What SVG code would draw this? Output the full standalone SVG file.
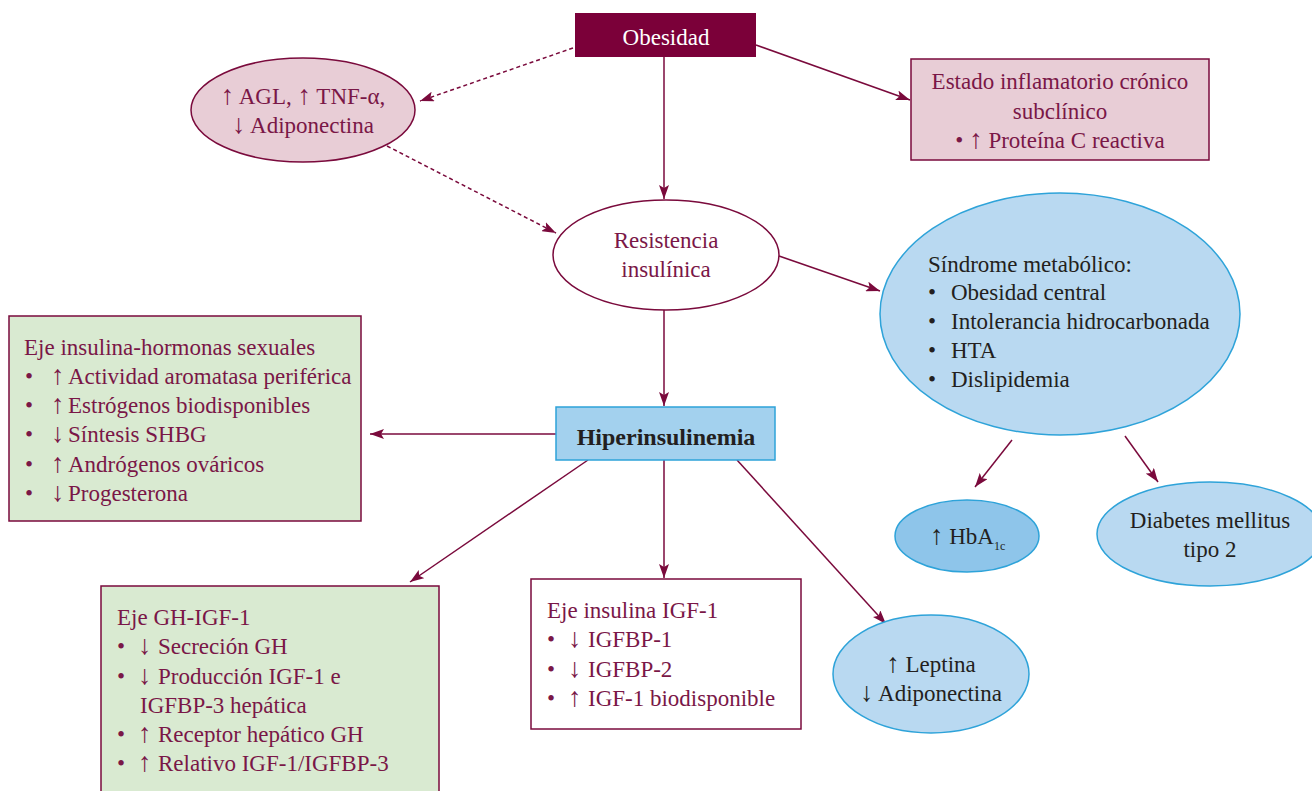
<svg xmlns="http://www.w3.org/2000/svg" width="1312" height="791" viewBox="0 0 1312 791">
<defs>
<marker id="ah" viewBox="0 0 14 10" refX="14" refY="5" markerWidth="14" markerHeight="10" markerUnits="userSpaceOnUse" orient="auto">
<path d="M0,0 L14,5 L0,10 L3,5 Z" fill="#7a0a3c"/>
</marker>
<style>
.t{font-family:"Liberation Serif","DejaVu Serif",serif;font-size:23px;fill:#7a1747}
.d{font-family:"Liberation Serif","DejaVu Serif",serif;font-size:23px;fill:#231f20}
.c{text-anchor:middle}
.ar{font-size:27px}
.ln{stroke:#7a0a3c;stroke-width:1.5;fill:none;marker-end:url(#ah)}
.dash{stroke-dasharray:4 3}
.mar{stroke:#7a0a3c;stroke-width:1.5}
.blu{stroke:#2ea3d9;stroke-width:1.5}
</style>
</defs>
<rect width="1312" height="791" fill="#ffffff"/>
<g id="connectors">
<line class="ln dash" x1="573" y1="48" x2="420" y2="101"/>
<line class="ln dash" x1="387" y1="146" x2="556" y2="233"/>
<line class="ln" x1="756" y1="45" x2="910" y2="100"/>
<line class="ln" x1="664" y1="57" x2="664" y2="199"/>
<line class="ln" x1="779" y1="256" x2="880" y2="291"/>
<line class="ln" x1="664" y1="310" x2="664" y2="406"/>
<line class="ln" x1="556" y1="434" x2="370" y2="434"/>
<line class="ln" x1="588" y1="460" x2="410" y2="582"/>
<line class="ln" x1="664" y1="460" x2="664" y2="578"/>
<line class="ln" x1="737" y1="460" x2="886" y2="624"/>
<line class="ln" x1="1012" y1="440" x2="975" y2="487"/>
<line class="ln" x1="1125" y1="436" x2="1158" y2="482"/>
</g>
<g id="obesidad">
<rect x="575" y="13" width="181" height="44" fill="#7b0039"/>
<text class="t c" x="666" y="45" style="fill:#ffffff">Obesidad</text>
</g>
<g id="agl">
<ellipse cx="303" cy="110" rx="112" ry="52" fill="#e8cdd6" class="mar"/>
<text class="t c" x="303" y="104"><tspan class="ar">↑</tspan> AGL, <tspan class="ar">↑</tspan> TNF-α,</text>
<text class="t c" x="303" y="133"><tspan class="ar">↓</tspan> Adiponectina</text>
</g>
<g id="inflamatorio">
<rect x="911" y="59" width="298" height="101" fill="#e8cdd6" class="mar"/>
<text class="t c" x="1060" y="89">Estado inflamatorio crónico</text>
<text class="t c" x="1060" y="119">subclínico</text>
<text class="t c" x="1060" y="148">• <tspan class="ar">↑</tspan> Proteína C reactiva</text>
</g>
<g id="resistencia">
<ellipse cx="666" cy="255" rx="113" ry="55" fill="#ffffff" class="mar"/>
<text class="t c" x="666" y="248">Resistencia</text>
<text class="t c" x="666" y="277">insulínica</text>
</g>
<g id="sindrome">
<ellipse cx="1060" cy="314" rx="180" ry="121" fill="#b9d9f1" class="blu"/>
<text class="d" x="928" y="272">Síndrome metabólico:</text>
<text class="d" y="300"><tspan x="928">•</tspan><tspan x="951">Obesidad central</tspan></text>
<text class="d" y="329"><tspan x="928">•</tspan><tspan x="951">Intolerancia hidrocarbonada</tspan></text>
<text class="d" y="358"><tspan x="928">•</tspan><tspan x="951">HTA</tspan></text>
<text class="d" y="387"><tspan x="928">•</tspan><tspan x="951">Dislipidemia</tspan></text>
</g>
<g id="hiperinsulinemia">
<rect x="556" y="407" width="219" height="53" fill="#a3d1ee" class="blu"/>
<text class="d c" x="666" y="445" style="font-weight:bold;font-size:24px">Hiperinsulinemia</text>
</g>
<g id="hormonas">
<rect x="9" y="316" width="352" height="205" fill="#d9ead1" class="mar"/>
<text class="t" x="24" y="355">Eje insulina-hormonas sexuales</text>
<text class="t" y="384"><tspan x="25">•</tspan><tspan x="51" class="ar">↑</tspan><tspan x="68">Actividad aromatasa periférica</tspan></text>
<text class="t" y="413"><tspan x="25">•</tspan><tspan x="51" class="ar">↑</tspan><tspan x="68">Estrógenos biodisponibles</tspan></text>
<text class="t" y="442"><tspan x="25">•</tspan><tspan x="51" class="ar">↓</tspan><tspan x="68">Síntesis SHBG</tspan></text>
<text class="t" y="472"><tspan x="25">•</tspan><tspan x="51" class="ar">↑</tspan><tspan x="68">Andrógenos ováricos</tspan></text>
<text class="t" y="501"><tspan x="25">•</tspan><tspan x="51" class="ar">↓</tspan><tspan x="68">Progesterona</tspan></text>
</g>
<g id="gh">
<rect x="101" y="586" width="338" height="215" fill="#d9ead1" class="mar"/>
<text class="t" x="117" y="625">Eje GH-IGF-1</text>
<text class="t" y="654"><tspan x="117">•</tspan><tspan x="138" class="ar">↓</tspan><tspan x="158">Secreción GH</tspan></text>
<text class="t" y="684"><tspan x="117">•</tspan><tspan x="138" class="ar">↓</tspan><tspan x="158">Producción IGF-1 e</tspan></text>
<text class="t" x="140" y="713">IGFBP-3 hepática</text>
<text class="t" y="742"><tspan x="117">•</tspan><tspan x="138" class="ar">↑</tspan><tspan x="158">Receptor hepático GH</tspan></text>
<text class="t" y="771"><tspan x="117">•</tspan><tspan x="138" class="ar">↑</tspan><tspan x="158">Relativo IGF-1/IGFBP-3</tspan></text>
</g>
<g id="igf">
<rect x="531" y="579" width="270" height="150" fill="#ffffff" class="mar"/>
<text class="t" x="547" y="618">Eje insulina IGF-1</text>
<text class="t" y="647"><tspan x="547">•</tspan><tspan x="568" class="ar">↓</tspan><tspan x="588">IGFBP-1</tspan></text>
<text class="t" y="677"><tspan x="547">•</tspan><tspan x="568" class="ar">↓</tspan><tspan x="588">IGFBP-2</tspan></text>
<text class="t" y="706"><tspan x="547">•</tspan><tspan x="568" class="ar">↑</tspan><tspan x="588">IGF-1 biodisponible</tspan></text>
</g>
<g id="leptina">
<ellipse cx="931" cy="674" rx="98" ry="59" fill="#b9d9f1" class="blu"/>
<text class="d c" x="931" y="672"><tspan class="ar">↑</tspan> Leptina</text>
<text class="d c" x="931" y="701"><tspan class="ar">↓</tspan> Adiponectina</text>
</g>
<g id="hba1c">
<ellipse cx="967" cy="536" rx="72" ry="36" fill="#8ec5ea" class="blu"/>
<text class="d" x="930" y="544"><tspan class="ar">↑</tspan> HbA<tspan style="font-size:12px" dy="6">1c</tspan></text>
</g>
<g id="diabetes">
<ellipse cx="1210" cy="534" rx="113" ry="52" fill="#b9d9f1" class="blu"/>
<text class="d c" x="1210" y="528">Diabetes mellitus</text>
<text class="d c" x="1210" y="557">tipo 2</text>
</g>
</svg>
